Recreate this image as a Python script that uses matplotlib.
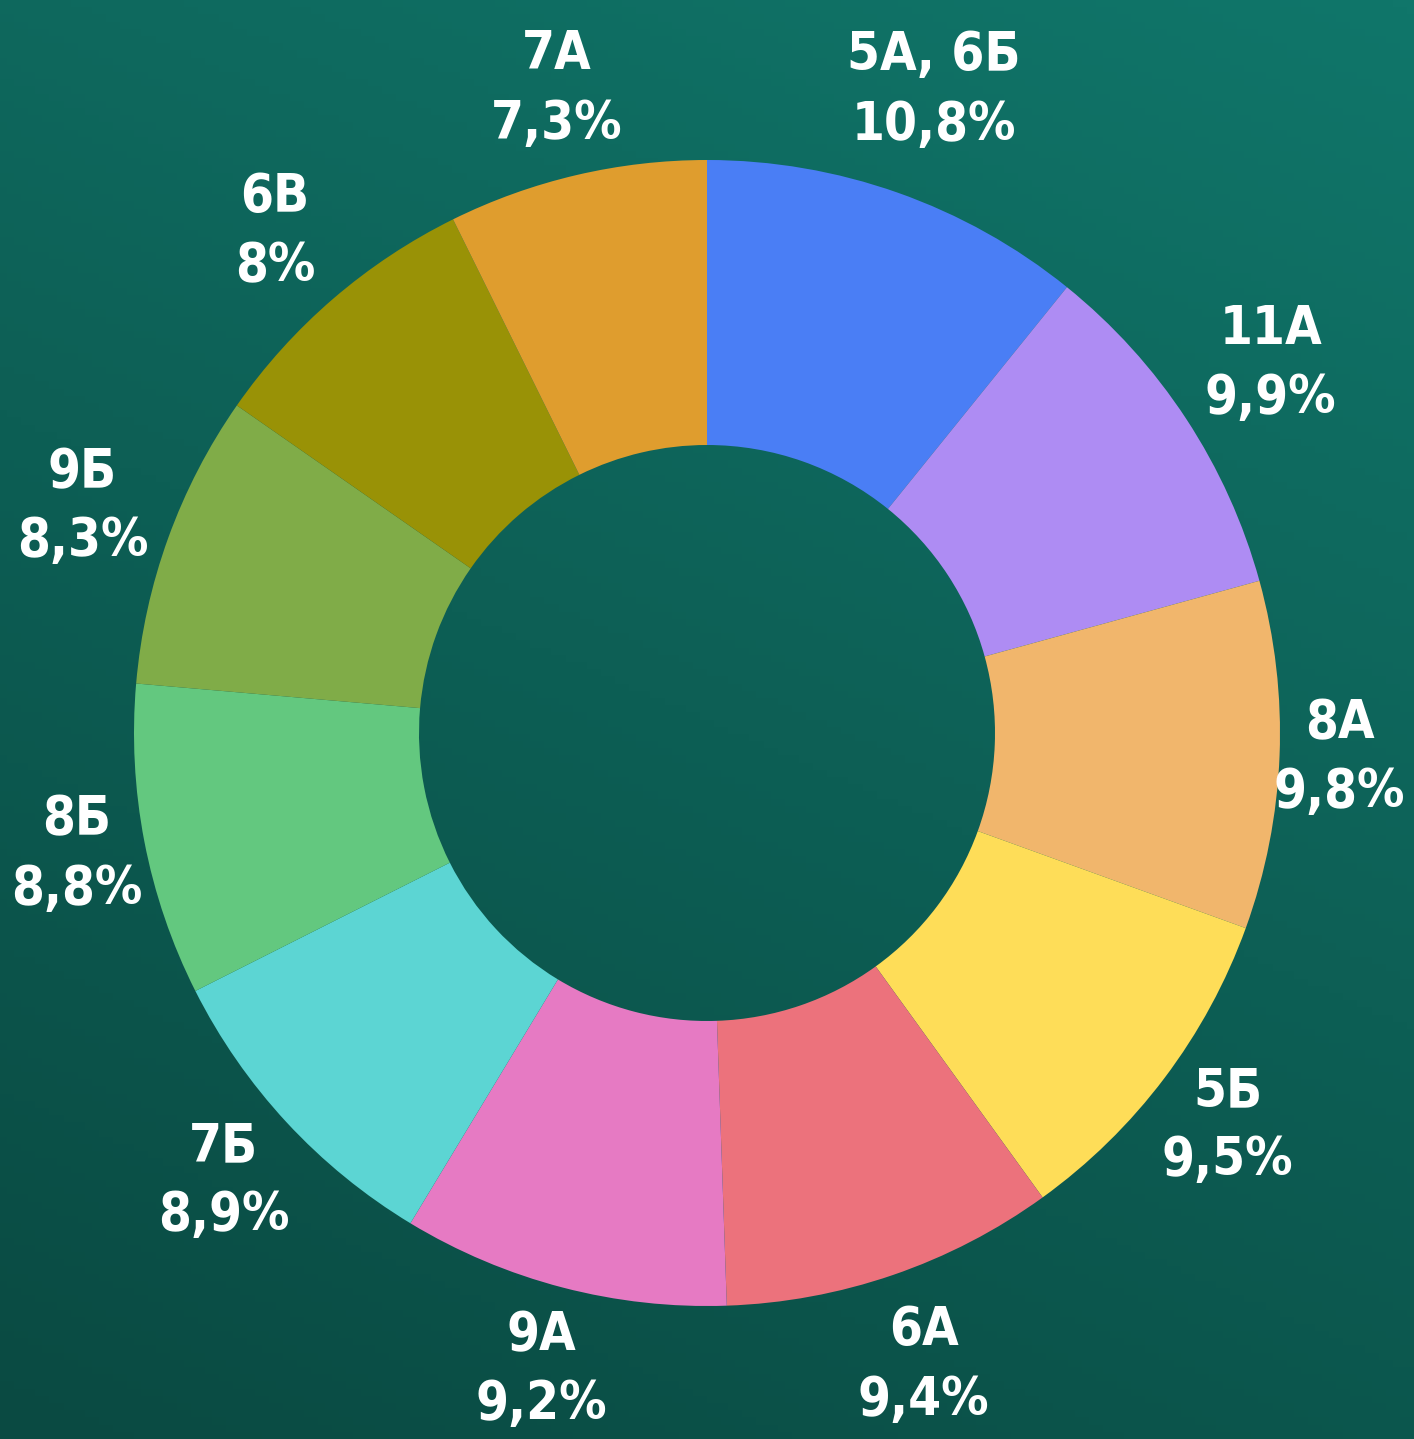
import numpy as np
import matplotlib.pyplot as plt
from matplotlib import font_manager
from matplotlib.colors import LinearSegmentedColormap

# классы и доли
classes = ["5А, 6Б", "11А", "8А", "5Б", "6А", "9А", "7Б", "8Б", "9Б", "6В", "7А"]
shares = [10.8, 9.9, 9.8, 9.5, 9.4, 9.2, 8.9, 8.8, 8.3, 8, 7.3]
share_text = ["10,8%", "9,9%", "9,8%", "9,5%", "9,4%", "9,2%", "8,9%", "8,8%", "8,3%", "8%", "7,3%"]
colors = ["#4a7ef5", "#ae8cf3", "#f1b66c", "#fedd58", "#ec727c", "#e67ac3",
          "#5cd5d3", "#63c87f", "#80ac48", "#999206", "#df9d2e"]
# расстояние подписей от центра (в радиусах)
label_dist = [1.19, 1.176, 1.105, 1.138, 1.166, 1.148, 1.15, 1.12, 1.159, 1.155, 1.154]

# ищем узкий жирный шрифт, если есть
fp = None
for f in font_manager.fontManager.ttflist:
    nm = (f.name + " " + str(f.stretch)).lower()
    if ("narrow" in nm or "condensed" in nm) and f.weight in ("bold", 700, "heavy", 800, 900):
        fp = font_manager.FontProperties(fname=f.fname)
        break
if fp is None:
    fp = font_manager.FontProperties(family="DejaVu Sans", weight="bold", stretch="condensed")

W, H = 1414, 1439
fig = plt.figure(figsize=(W / 100, H / 100), dpi=100)
ax = fig.add_axes([0, 0, 1, 1])
ax.axis("off")

# фон - тёмно-зелёный градиент
bg = LinearSegmentedColormap.from_list("bg", ["#0a4a42", "#0d5f55", "#10766a"])
yy, xx = np.mgrid[0:1:200j, 0:1:200j]
grad = np.clip(0.7 * yy + 0.3 * xx, 0, 1)
ax.imshow(grad, cmap=bg, extent=[0, W, 0, H], origin="lower", aspect="auto", zorder=0)

cx, cy = 707, H - 733
R = 573
labels = [c + "\n" + s for c, s in zip(classes, share_text)]
wedges, texts = ax.pie(shares, colors=colors, startangle=90, counterclock=False,
                       center=(cx, cy), radius=R, labels=labels, labeldistance=1.155,
                       wedgeprops=dict(width=R - 288, linewidth=0),
                       textprops=dict(color="white", linespacing=1.42))
for w, t, d in zip(wedges, texts, label_dist):
    ang = np.deg2rad((w.theta1 + w.theta2) / 2)
    t.set_position((cx + d * R * np.cos(ang), cy + d * R * np.sin(ang)))
    t.set_fontproperties(fp)
    t.set_fontsize(38)
    t.set_horizontalalignment("center")
    t.set_verticalalignment("center")
    t.set_zorder(5)

ax.set_xlim(0, W)
ax.set_ylim(0, H)
ax.set_aspect("auto")
fig.savefig("out.png", dpi=100)
